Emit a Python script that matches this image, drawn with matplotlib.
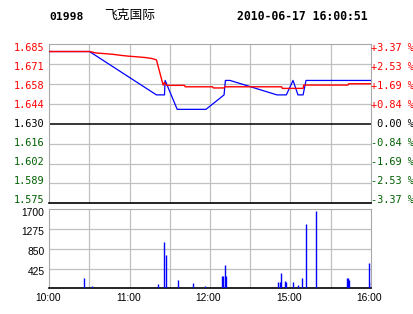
import matplotlib
matplotlib.use("Agg")
import matplotlib.pyplot as plt

# ---------------- data ----------------
title_code = "01998"
title_name = "飞克国际"
title_time = "2010-06-17 16:00:51"

# minutes since 10:00 (trading minutes, lunch break removed)
price_t = [0, 30, 80, 86, 86.5, 95.5, 117, 130.5, 131.5, 135, 170, 177, 182, 185.7, 189.5, 191.7, 240]
price_v = [1.68, 1.68, 1.65, 1.65, 1.66, 1.64, 1.64, 1.65, 1.66, 1.66, 1.65, 1.65, 1.66, 1.65, 1.65, 1.66, 1.66]

avg_t = [0, 30, 35, 42, 48, 54, 59, 66, 72, 77, 80, 85, 86, 87.5, 101, 101.5, 122, 122.5,
         130.5, 131, 173.5, 174, 189.5, 190, 223, 223.5, 240]
avg_v = [1.680, 1.680, 1.679, 1.6785, 1.678, 1.6773, 1.6768, 1.6763, 1.6758, 1.6751, 1.6742,
         1.6568, 1.6586, 1.6566, 1.6566, 1.6556, 1.6556, 1.6548, 1.6548, 1.6556, 1.6556,
         1.6545, 1.6545, 1.6568, 1.6568, 1.6577, 1.6577]

vol_t = [26, 32, 81, 86, 87, 96, 107, 116, 129, 130, 131, 132, 171, 172, 173, 176, 177,
         182, 186, 189, 192, 199, 222, 223, 224, 239, 240]
vol_v = [228, 56, 99, 1003, 717, 179, 114, 56, 271, 271, 501, 271, 136, 136, 329, 157, 136,
         136, 71, 222, 1384, 1663, 222, 222, 179, 538, 136]

prev_close = 1.630
price_levels = [1.685, 1.671, 1.658, 1.644, 1.630, 1.616, 1.602, 1.589, 1.575]
pct_labels = ["+3.37 %", "+2.53 %", "+1.69 %", "+0.84 %", " 0.00 %",
              "-0.84 %", "-1.69 %", "-2.53 %", "-3.37 %"]
vol_levels = [1700, 1275, 850, 425]
x_ticks = [0, 60, 120, 180, 240]
x_labels = ["10:00", "11:00", "12:00", "15:00", "16:00"]

# ---------------- style ----------------
W, H = 414, 314
RED = "#ff0000"
GREEN = "#006000"
BLUE = "#0000ff"
GRID = "#c0c0c0"
EDGE = "#a8a8a8"
MONO = "DejaVu Sans Mono"
SANS = "Liberation Sans"

fig = plt.figure(figsize=(W / 100, H / 100), dpi=100)
fig.patch.set_facecolor("white")

def fx(px):
    return px / W

def fy(py):
    return 1 - py / H

L, R = 49.3, 370.7
ax = fig.add_axes([fx(L), fy(203.3), fx(R) - fx(L), fy(44.3) - fy(203.3)])
av = fig.add_axes([fx(L), fy(288.3), fx(R) - fx(L), fy(209.3) - fy(288.3)])

step = 0.01375
lo, hi = prev_close - 4 * step, prev_close + 4 * step

for a in (ax, av):
    a.set_xlim(0, 240)
    a.set_xticks([])
    a.set_yticks([])
    for s in a.spines.values():
        s.set_color(EDGE)
        s.set_linewidth(0.8)
    a.spines["bottom"].set_color("black")
    a.spines["bottom"].set_linewidth(1.2)
    for m in range(30, 240, 30):
        a.axvline(m, color=GRID, lw=0.9, zorder=1)

ax.set_ylim(lo, hi)
for k in range(-3, 4):
    if k == 0:
        continue
    ax.axhline(prev_close + k * step, color=GRID, lw=0.9, zorder=1)
ax.axhline(prev_close, color="black", lw=1.1, zorder=2)

ax.plot(price_t, price_v, color=BLUE, lw=0.9, zorder=3)
ax.plot(avg_t, avg_v, color=RED, lw=1.0, zorder=4)

av.set_ylim(0, 1700)
for v in vol_levels[1:]:
    av.axhline(v, color=GRID, lw=0.9, zorder=1)
av.vlines(vol_t, 0, vol_v, color=BLUE, lw=1.0, zorder=3)

# price labels (left and right)
n = len(price_levels)
for i, (p, pl) in enumerate(zip(price_levels, pct_labels)):
    py = 47.7 + i * (200.0 - 47.7) / (n - 1)
    if i < 4:
        c = RED
    elif i == 4:
        c = "black"
    else:
        c = GREEN
    fig.text(fx(44.5), fy(py), f"{p:.3f}", ha="right", va="center",
             color=c, fontsize=7.4, family=MONO)
    fig.text(fx(371.5), fy(py), pl, ha="left", va="center",
             color=c, fontsize=7.4, family=MONO)

# volume labels
for v, py in zip(vol_levels, [213.3, 232.3, 251.7, 271.7]):
    fig.text(fx(44.5), fy(py), str(v), ha="right", va="center",
             color="black", fontsize=7.4, family=SANS)

# time labels
for t, lab in zip(x_ticks, x_labels):
    px = L + (R - L) * t / 240 - 1.5
    fig.text(fx(px), fy(298.3), lab, ha="center", va="center",
             color="black", fontsize=7.4, family=SANS)

# title
fig.text(fx(49.5), fy(16.8), title_code, ha="left", va="center",
         fontsize=8.2, family=MONO, weight="bold", color="black")
fig.text(fx(104.5), fy(15.5), title_name, ha="left", va="center",
         fontsize=9.2, family=["Noto Sans CJK SC", "DejaVu Sans"], color="black")
fig.text(fx(237.5), fy(16.8), title_time, ha="left", va="center",
         fontsize=8.3, family=MONO, weight="bold", color="black")

fig.savefig("out.png", dpi=100, facecolor="white")
